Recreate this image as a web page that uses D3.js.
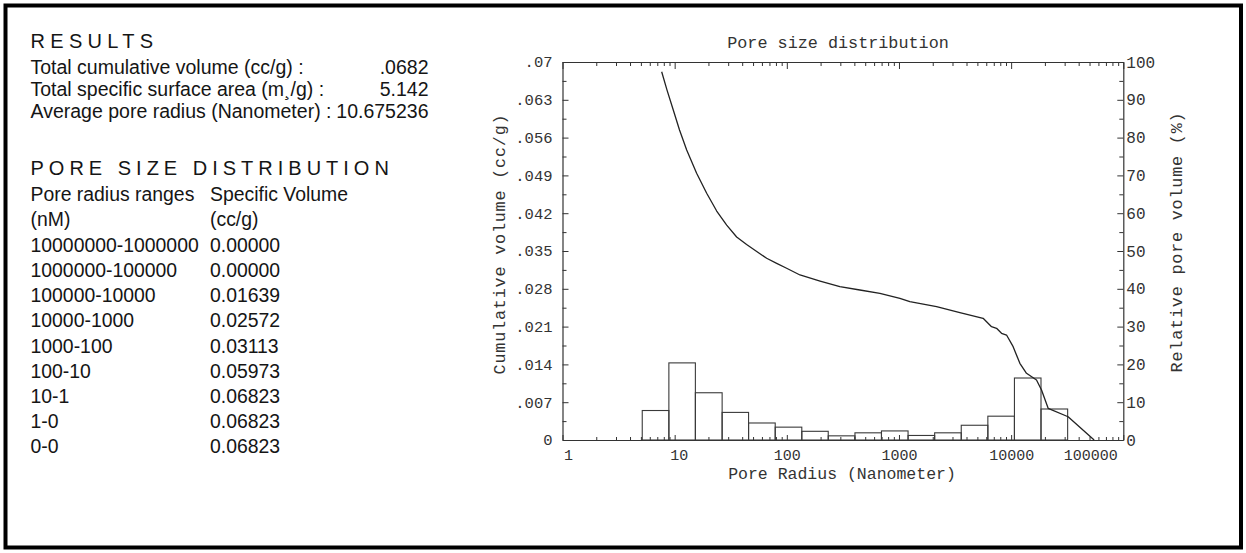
<!DOCTYPE html>
<html>
<head>
<meta charset="utf-8">
<script src="https://cdn.jsdelivr.net/npm/d3@7"></script>
<style>
  html, body { margin: 0; padding: 0; background: #fff; }
  svg { display: block; }
</style>
</head>
<body>
<svg id="chart" width="1246" height="553"></svg>
<script>
// ---- Summary results ----
const resultLabels = [
  "Total cumulative volume (cc/g) :",
  "Total specific surface area (m\u00B8/g) :",
  "Average pore radius (Nanometer) :"
];
const resultValues = [".0682", "5.142", "10.675236"];

// ---- Pore size distribution table ----
const rangeLabels = [
  "10000000-1000000", "1000000-100000", "100000-10000", "10000-1000",
  "1000-100", "100-10", "10-1", "1-0", "0-0"
];
const specificVolumes = [
  "0.00000", "0.00000", "0.01639", "0.02572",
  "0.03113", "0.05973", "0.06823", "0.06823", "0.06823"
];

// ---- Histogram: bin edges (nm) and relative pore volume (%) per bin ----
const binEdges = [5.14, 8.88, 15.3, 26.5, 45.6, 78.8, 136, 234, 405, 698,
                  1205, 2080, 3590, 6200, 10700, 18460, 31900];
const binPercent = [7.8, 20.4, 12.5, 7.3, 4.5, 3.4, 2.3, 1.1, 1.9, 2.4,
                    1.2, 1.9, 3.9, 6.3, 16.4, 8.2];

// ---- Cumulative volume curve: radius (nm) and volume (cc/g) ----
const curveRadius = [7.66, 8.55, 9.72, 11.05, 12.8, 15.7, 19.3, 23.7, 29.1, 35.7,
                     43.8, 53.9, 66.1, 81.2, 99.6, 131, 198, 297, 448, 676,
                     1019, 1250, 2163, 3490, 5626, 6686, 7413, 8209, 9100, 10420,
                     11960, 13710, 16830, 18660, 21380, 32210, 54950];
const curveVolume = [0.0682, 0.0648, 0.0611, 0.0574, 0.0537, 0.0494, 0.0457, 0.0424, 0.0398, 0.0376,
                     0.0362, 0.0349, 0.03365, 0.0327, 0.0318, 0.03056, 0.02944, 0.02839, 0.02778, 0.02717,
                     0.02624, 0.02561, 0.02469, 0.02357, 0.02254, 0.02098, 0.02069, 0.01976, 0.01944, 0.01728,
                     0.0142, 0.01235, 0.01111, 0.00926, 0.00587, 0.00431, 0];

// ---- Axis ticks ----
const xMajor = [1, 10, 100, 1000, 10000, 100000];
const yLeftTicks = [0, 0.007, 0.014, 0.021, 0.028, 0.035, 0.042, 0.049, 0.056, 0.063, 0.07];
const yRightTicks = [0, 10, 20, 30, 40, 50, 60, 70, 80, 90, 100];

const svg = d3.select("#chart");

// Outer frame
svg.append("rect")
  .attr("x", 5.5).attr("y", 5.5)
  .attr("width", 1235.5).attr("height", 542)
  .attr("fill", "none").attr("stroke", "#000").attr("stroke-width", 4);

// ---- Left text panel ----
const sans = "'Liberation Sans', Arial, sans-serif";
const panel = svg.append("g").attr("font-family", sans).attr("fill", "#151515");

panel.append("text").attr("x", 30.5).attr("y", 48)
  .attr("font-size", 20).attr("letter-spacing", 5.3).text("RESULTS");

const resultY = d3.scalePoint().domain(d3.range(resultLabels.length)).range([74, 118.3]);
resultLabels.forEach((lab, i) => {
  panel.append("text").attr("x", 30.5).attr("y", resultY(i))
    .attr("font-size", 19.5).text(lab);
  panel.append("text").attr("x", 428.5).attr("y", resultY(i))
    .attr("font-size", 19.5).attr("text-anchor", "end").text(resultValues[i]);
});

panel.append("text").attr("x", 30.5).attr("y", 175)
  .attr("font-size", 20).attr("letter-spacing", 5).text("PORE SIZE DISTRIBUTION");

panel.append("text").attr("x", 30.5).attr("y", 200.5).attr("font-size", 19.4).text("Pore radius ranges");
panel.append("text").attr("x", 210).attr("y", 200.5).attr("font-size", 19.4).text("Specific Volume");
panel.append("text").attr("x", 30.5).attr("y", 226).attr("font-size", 19.4).text("(nM)");
panel.append("text").attr("x", 210).attr("y", 226).attr("font-size", 19.4).text("(cc/g)");

const rowY = d3.scalePoint().domain(d3.range(rangeLabels.length)).range([251.7, 453.3]);
rangeLabels.forEach((lab, i) => {
  panel.append("text").attr("x", 30.5).attr("y", rowY(i)).attr("font-size", 19.4).text(lab);
  panel.append("text").attr("x", 210).attr("y", rowY(i)).attr("font-size", 19.4).text(specificVolumes[i]);
});

// ---- Chart ----
const mono = "'Liberation Mono', 'Courier New', monospace";
const plotL = 562.5, plotR = 1123.3, plotT = 62, plotB = 440;
const ink = "#333";

const x = d3.scaleLog().domain([1, 100000]).range([plotL, plotR]);
const yL = d3.scaleLinear().domain([0, 0.07]).range([plotB, plotT]);
const yR = d3.scaleLinear().domain([0, 100]).range([plotB, plotT]);

const chart = svg.append("g").attr("font-family", mono);

// Minor tick positions
const xMinor = [];
xMajor.slice(0, -1).forEach(d => { for (let k = 2; k <= 9; k++) xMinor.push(d * k); });
const yLeftMinor = d3.range(0.0035, 0.07, 0.007);
const yRightMinor = d3.range(5, 100, 10);

function styleAxis(g) {
  g.selectAll("path.domain").attr("stroke", ink).attr("stroke-width", 1.2);
  g.selectAll(".tick line").attr("stroke", ink).attr("stroke-width", 1);
  g.selectAll(".tick text").attr("fill", ink).attr("font-family", mono);
}

// Bottom axis
const fmtX = d3.format("d");
const gxB = chart.append("g").attr("transform", `translate(0,${plotB})`)
  .call(d3.axisBottom(x).tickValues(xMajor).tickFormat(fmtX).tickSize(-5).tickSizeOuter(0).tickPadding(9));
styleAxis(gxB);
gxB.selectAll(".tick text").attr("font-size", 15)
  .attr("text-anchor", d => d === 1 ? "start" : (d === 100000 ? "end" : "middle"))
  .attr("dx", d => d === 1 ? 1 : (d === 10 ? 4 : (d === 100000 ? -6 : 0)));
chart.append("g").attr("transform", `translate(0,${plotB})`)
  .call(d3.axisBottom(x).tickValues(xMinor).tickFormat("").tickSize(-3).tickSizeOuter(0))
  .call(styleAxis).select("path.domain").remove();

// Top axis
const gxT = chart.append("g").attr("transform", `translate(0,${plotT})`)
  .call(d3.axisTop(x).tickValues(xMajor).tickFormat("").tickSize(-7).tickSizeOuter(0));
styleAxis(gxT);
chart.append("g").attr("transform", `translate(0,${plotT})`)
  .call(d3.axisTop(x).tickValues(xMinor).tickFormat("").tickSize(-4).tickSizeOuter(0))
  .call(styleAxis).select("path.domain").remove();

// Left axis
const fmtY = d => d === 0 ? "0" : d3.format(".3f")(d).replace(/^0/, "").replace(/0+$/, "");
const gyL = chart.append("g").attr("transform", `translate(${plotL},0)`)
  .call(d3.axisLeft(yL).tickValues(yLeftTicks).tickFormat(fmtY).tickSize(-6).tickSizeOuter(0).tickPadding(10));
styleAxis(gyL);
gyL.selectAll(".tick text").attr("font-size", 15.5);
chart.append("g").attr("transform", `translate(${plotL},0)`)
  .call(d3.axisLeft(yL).tickValues(yLeftMinor).tickFormat("").tickSize(-4).tickSizeOuter(0))
  .call(styleAxis).select("path.domain").remove();

// Right axis
const gyR = chart.append("g").attr("transform", `translate(${plotR},0)`)
  .call(d3.axisRight(yR).tickValues(yRightTicks).tickSize(-6).tickSizeOuter(0).tickPadding(3));
styleAxis(gyR);
gyR.selectAll(".tick text").attr("font-size", 16);
chart.append("g").attr("transform", `translate(${plotR},0)`)
  .call(d3.axisRight(yR).tickValues(yRightMinor).tickFormat("").tickSize(-4).tickSizeOuter(0))
  .call(styleAxis).select("path.domain").remove();

// Histogram bars (relative pore volume, right axis)
const bins = binPercent.map((p, i) => ({ x0: binEdges[i], x1: binEdges[i + 1], p }));
chart.append("g").selectAll("rect").data(bins).join("rect")
  .attr("x", d => x(d.x0))
  .attr("y", d => yR(d.p))
  .attr("width", d => x(d.x1) - x(d.x0))
  .attr("height", d => yR(0) - yR(d.p))
  .attr("fill", "none").attr("stroke", "#3a3a3a").attr("stroke-width", 1.1);

// Cumulative volume curve (left axis)
const pts = curveRadius.map((r, i) => [r, curveVolume[i]]);
chart.append("path").datum(pts)
  .attr("d", d3.line().x(d => x(d[0])).y(d => yL(d[1])))
  .attr("fill", "none").attr("stroke", "#222").attr("stroke-width", 1.3)
  .attr("stroke-linejoin", "round");

// Titles
chart.append("text").attr("x", 838).attr("y", 48).attr("text-anchor", "middle")
  .attr("font-size", 16.8).attr("fill", ink).text("Pore size distribution");
chart.append("text").attr("x", 842).attr("y", 479).attr("text-anchor", "middle")
  .attr("font-size", 16.5).attr("fill", ink).text("Pore Radius (Nanometer)");
chart.append("text").attr("transform", "translate(505,244) rotate(-90)")
  .attr("text-anchor", "middle").attr("font-size", 16.8).attr("letter-spacing", 0.8)
  .attr("fill", ink).text("Cumulative volume (cc/g)");
chart.append("text").attr("transform", "translate(1182,242) rotate(-90)")
  .attr("text-anchor", "middle").attr("font-size", 16.8).attr("letter-spacing", 0.8)
  .attr("fill", ink).text("Relative pore volume (%)");
</script>
</body>
</html>
